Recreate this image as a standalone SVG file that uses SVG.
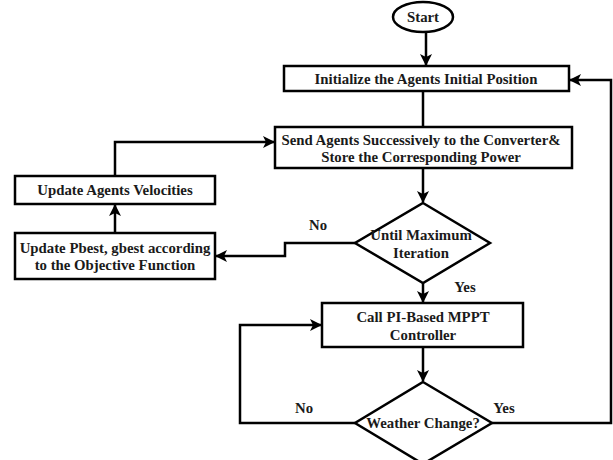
<svg xmlns="http://www.w3.org/2000/svg" width="613" height="460" viewBox="0 0 613 460">
<style>
.n{fill:#fff;stroke:#000;stroke-width:2.5}
.t{font-family:'Liberation Serif','Times New Roman',Times,serif;font-weight:700;font-size:14.8px;fill:#1a1a1a;text-anchor:middle}
.c{fill:none;stroke:#000;stroke-width:2.5}
</style>
<defs>
<marker id="a" viewBox="0 0 12 12" refX="11" refY="6" markerWidth="12" markerHeight="12" markerUnits="userSpaceOnUse" orient="auto">
<path d="M0,0 L12,6 L0,12 L3,6 Z" fill="#000"/>
</marker>
</defs>
<rect width="613" height="460" fill="#fff"/>
<g id="connectors">
<path class="c" d="M426,32 V65" marker-end="url(#a)"/>
<path class="c" d="M423,91 V126"/>
<path class="c" d="M423,168 V202" marker-end="url(#a)"/>
<path class="c" d="M355,243 H285 V256 H216" marker-end="url(#a)"/>
<path class="c" d="M115,233 V205" marker-end="url(#a)"/>
<path class="c" d="M115,176 V142 H274" marker-end="url(#a)"/>
<path class="c" d="M423,283 V302" marker-end="url(#a)"/>
<path class="c" d="M423,347 V381" marker-end="url(#a)"/>
<path class="c" d="M355,423 H240 V325 H321" marker-end="url(#a)"/>
<path class="c" d="M492,423 H611 V80 H570" marker-end="url(#a)"/>
</g>
<g id="start">
<ellipse class="n" cx="423" cy="17" rx="30" ry="15"/>
<text class="t" x="423" y="22">Start</text>
</g>
<g id="init">
<rect class="n" x="284" y="66" width="285" height="25"/>
<text class="t" x="426" y="84">Initialize the Agents Initial Position</text>
</g>
<g id="send">
<rect class="n" x="275" y="127" width="297" height="41"/>
<text class="t" x="421" y="145">Send Agents Successively to the Converter&amp;</text>
<text class="t" x="421" y="162">Store the Corresponding Power</text>
</g>
<g id="velocities">
<rect class="n" x="15" y="176" width="200" height="28"/>
<text class="t" x="115" y="195">Update Agents Velocities</text>
</g>
<g id="pbest">
<rect class="n" x="15" y="233" width="200" height="46"/>
<text class="t" x="115" y="253">Update Pbest, gbest according</text>
<text class="t" x="115" y="270">to the Objective Function</text>
</g>
<g id="until">
<polygon class="n" points="423,203 490,243 423,283 355,243"/>
<text class="t" x="421" y="240">Until Maximum</text>
<text class="t" x="421" y="258">Iteration</text>
</g>
<g id="call">
<rect class="n" x="322" y="303" width="201" height="44"/>
<text class="t" x="423" y="322">Call PI-Based MPPT</text>
<text class="t" x="423" y="340">Controller</text>
</g>
<g id="weather">
<polygon class="n" points="423,382 492,423 423,464 355,423"/>
<text class="t" x="423" y="428">Weather Change?</text>
</g>
<g id="labels">
<text class="t" x="318" y="230">No</text>
<text class="t" x="465" y="292">Yes</text>
<text class="t" x="304" y="413">No</text>
<text class="t" x="504" y="413">Yes</text>
</g>
</svg>
